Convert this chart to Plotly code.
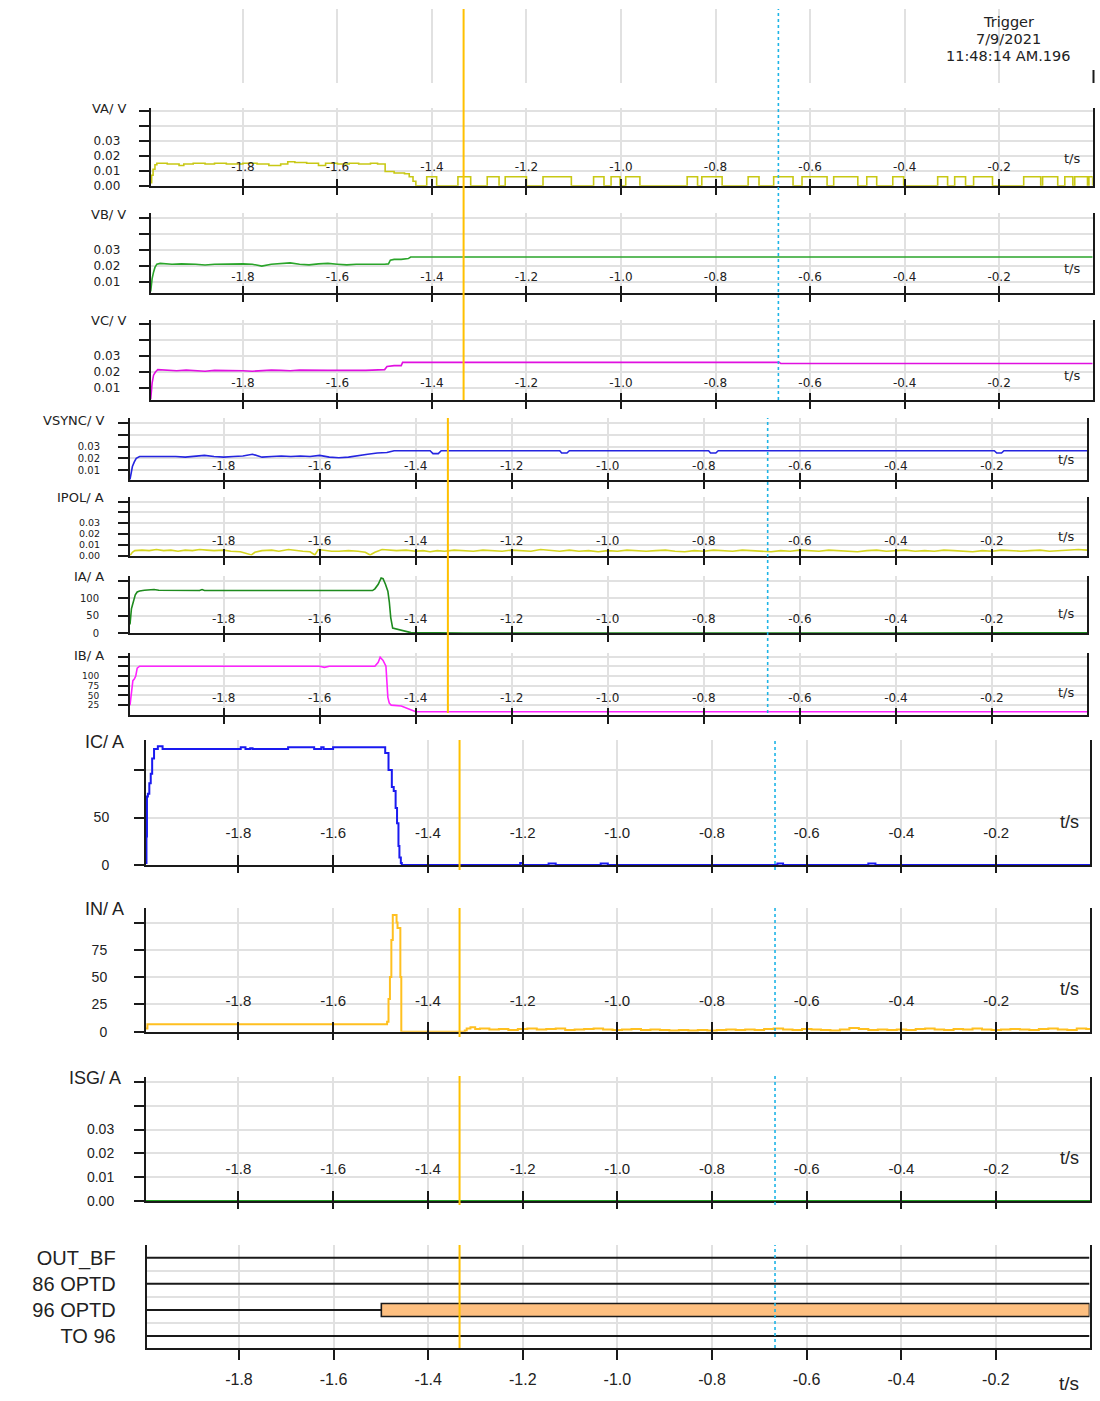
import plotly.graph_objects as go

W, H = 1100, 1394   # figure size (the page adds a few px below the figure)

# ---------------- data ----------------
t_start, t_end = -1.995, -0.002
cursor_t1 = -1.333   # orange cursor
cursor_t2 = -0.667   # cyan cursor
x_tickvals = [-1.8, -1.6, -1.4, -1.2, -1.0, -0.8, -0.6, -0.4, -0.2]
x_ticktext = ["-1.8", "-1.6", "-1.4", "-1.2", "-1.0", "-0.8", "-0.6", "-0.4", "-0.2"]
trigger_lines = ["Trigger", "7/9/2021", "11:48:14 AM.196"]

va_t = [-1.995, -1.993, -1.990, -1.986, -1.982, -1.960, -1.935, -1.925, -1.905, -1.880, -1.860, -1.835,
        -1.800, -1.770, -1.745, -1.720, -1.705, -1.690, -1.665, -1.640, -1.625, -1.600, -1.575, -1.555,
        -1.530, -1.515, -1.499, -1.480, -1.458, -1.448, -1.440, -1.434,
        -1.411, -1.390, -1.345, -1.318, -1.283, -1.258, -1.245, -1.200, -1.165, -1.105, -1.058, -1.036,
        -1.021, -1.002, -0.990, -0.960, -0.860, -0.838, -0.829, -0.786, -0.731, -0.708, -0.677, -0.636,
        -0.617, -0.564, -0.550, -0.499, -0.480, -0.459, -0.425, -0.402, -0.330, -0.309, -0.294, -0.271,
        -0.254, -0.214, -0.148, -0.112, -0.108, -0.076, -0.061, -0.044, -0.040, -0.013, -0.010, -0.002]
va_v = [0.002, 0.007, 0.011, 0.014, 0.015, 0.0145, 0.0135, 0.0145, 0.015, 0.0145, 0.015, 0.0145,
        0.015, 0.0145, 0.0135, 0.0145, 0.016, 0.0155, 0.015, 0.0135, 0.015, 0.0145, 0.015, 0.0145,
        0.015, 0.0145, 0.0095, 0.0085, 0.008, 0.006, 0.003, 0.0,
        0.006, 0.0, 0.006, 0.0, 0.006, 0.0, 0.006, 0.0, 0.006, 0.0, 0.006, 0.0,
        0.006, 0.0, 0.006, 0.0, 0.006, 0.0, 0.006, 0.0, 0.006, 0.0, 0.006, 0.0,
        0.006, 0.0, 0.006, 0.0, 0.006, 0.0, 0.006, 0.0, 0.006, 0.0, 0.006, 0.0,
        0.006, 0.0, 0.006, 0.0, 0.006, 0.0, 0.006, 0.0, 0.006, 0.0, 0.006, 0.0]

vb_t = [-1.995, -1.994, -1.992, -1.989, -1.986, -1.982, -1.975, -1.95, -1.93, -1.90, -1.88, -1.86,
        -1.84, -1.82, -1.80, -1.78, -1.76, -1.74, -1.72, -1.70, -1.68, -1.66, -1.64, -1.62, -1.60,
        -1.58, -1.56, -1.54, -1.52, -1.50, -1.492, -1.488, -1.480, -1.465, -1.450, -1.445, -0.002]
vb_v = [0.004, 0.007, 0.012, 0.016, 0.019, 0.021, 0.0215, 0.021, 0.0212, 0.021, 0.0205, 0.021,
        0.0212, 0.021, 0.0212, 0.021, 0.0198, 0.021, 0.0213, 0.0218, 0.021, 0.0206, 0.0212, 0.0215, 0.021,
        0.0206, 0.021, 0.0208, 0.021, 0.021, 0.0212, 0.0235, 0.024, 0.024, 0.0245, 0.0255, 0.0255]

vc_t = [-1.995, -1.994, -1.992, -1.989, -1.985, -1.980, -1.96, -1.94, -1.92, -1.90, -1.88, -1.86,
        -1.84, -1.82, -1.80, -1.78, -1.76, -1.74, -1.72, -1.70, -1.68, -1.66, -1.64, -1.62, -1.60,
        -1.58, -1.56, -1.54, -1.52, -1.50, -1.495, -1.48, -1.465, -1.462, -0.665, -0.662, -0.002]
vc_v = [0.003, 0.008, 0.013, 0.018, 0.020, 0.0215, 0.021, 0.0208, 0.0212, 0.021, 0.0205, 0.021,
        0.021, 0.0212, 0.0208, 0.0205, 0.021, 0.0212, 0.021, 0.0208, 0.0212, 0.021, 0.0212, 0.021, 0.021,
        0.0208, 0.021, 0.021, 0.0212, 0.0215, 0.0235, 0.024, 0.024, 0.026, 0.026, 0.0253, 0.0253]

vsync_t = [-1.995, -1.993, -1.990, -1.986, -1.982, -1.975, -1.95, -1.92, -1.90, -1.88, -1.86, -1.84,
           -1.82, -1.80, -1.78, -1.76, -1.74, -1.72, -1.70, -1.68, -1.66, -1.64, -1.62, -1.60, -1.58,
           -1.56, -1.54, -1.52, -1.50, -1.48, -1.46, -1.445, -1.40, -1.37, -1.364, -1.353, -1.347,
           -1.10, -1.096, -1.085, -1.08, -0.79, -0.786, -0.775, -0.77, -0.195, -0.19, -0.18, -0.175, -0.002]
vsync_v = [0.002, 0.008, 0.013, 0.017, 0.020, 0.0215, 0.0215, 0.022, 0.0215, 0.021, 0.0215, 0.0225,
           0.0215, 0.021, 0.0215, 0.022, 0.0235, 0.021, 0.0215, 0.022, 0.0215, 0.022, 0.0215, 0.0225, 0.021,
           0.0205, 0.021, 0.0225, 0.0235, 0.0245, 0.025, 0.0265, 0.0265, 0.0265, 0.024, 0.024, 0.0265,
           0.0265, 0.0245, 0.0245, 0.0265, 0.0265, 0.0245, 0.0245, 0.0265, 0.0265, 0.0245, 0.0245, 0.0265, 0.0265]

ipol_t = [-1.995, -1.99, -1.985, -1.97, -1.955, -1.94, -1.925, -1.91, -1.895, -1.88, -1.865, -1.85,
          -1.835, -1.82, -1.80, -1.785, -1.765, -1.75, -1.742, -1.735, -1.72, -1.70, -1.685, -1.665,
          -1.65, -1.635, -1.62, -1.61, -1.603, -1.59, -1.575, -1.56, -1.54, -1.52, -1.505, -1.495,
          -1.485, -1.47, -1.455, -1.44, -1.42, -1.40, -1.385, -1.37, -1.355, -1.34, -1.32, -1.30,
          -1.28, -1.26, -1.24, -1.22, -1.20, -1.18, -1.16, -1.14, -1.12, -1.10, -1.08, -1.06, -1.04,
          -1.02, -1.00, -0.98, -0.96, -0.94, -0.92, -0.90, -0.88, -0.86, -0.84, -0.82, -0.80, -0.78,
          -0.76, -0.74, -0.72, -0.70, -0.68, -0.66, -0.64, -0.62, -0.60, -0.58, -0.56, -0.54, -0.52,
          -0.50, -0.48, -0.46, -0.44, -0.42, -0.40, -0.38, -0.36, -0.34, -0.32, -0.30, -0.28, -0.26,
          -0.24, -0.22, -0.20, -0.18, -0.16, -0.14, -0.12, -0.10, -0.08, -0.06, -0.04, -0.02, -0.002]
ipol_v = [0.0, 0.003, 0.0045, 0.005, 0.0045, 0.0055, 0.0045, 0.005, 0.004, 0.005, 0.0045, 0.0055,
          0.005, 0.0045, 0.005, 0.004, 0.0035, 0.002, 0.0005, 0.003, 0.0045, 0.005, 0.004, 0.0055,
          0.0045, 0.004, 0.0035, 0.0005, 0.0055, 0.0045, 0.004, 0.004, 0.0045, 0.004, 0.003, 0.0005,
          0.003, 0.0055, 0.005, 0.0045, 0.005, 0.004, 0.0045, 0.0035, 0.0045, 0.004, 0.005, 0.0045,
          0.004, 0.005, 0.0045, 0.004, 0.005, 0.0045, 0.004, 0.0055, 0.0045, 0.004, 0.005, 0.004, 0.0045,
          0.0035, 0.0045, 0.004, 0.005, 0.0045, 0.004, 0.0045, 0.005, 0.004, 0.0035, 0.0045, 0.004, 0.005,
          0.0045, 0.004, 0.005, 0.0045, 0.004, 0.0035, 0.0045, 0.004, 0.005, 0.0045, 0.004, 0.005, 0.0045,
          0.004, 0.0035, 0.0045, 0.005, 0.004, 0.0045, 0.005, 0.004, 0.0045, 0.004, 0.005, 0.0045, 0.004,
          0.0035, 0.0045, 0.004, 0.005, 0.0045, 0.004, 0.0045, 0.005, 0.004, 0.0045, 0.005, 0.0055, 0.005]

ia_t = [-1.995, -1.994, -1.992, -1.990, -1.987, -1.984, -1.980, -1.975, -1.965, -1.955, -1.945, -1.935,
        -1.90, -1.85, -1.845, -1.840, -1.60, -1.55, -1.490, -1.485, -1.478, -1.472, -1.468, -1.463,
        -1.458, -1.455, -1.452, -1.448, -1.44, -1.43, -1.42, -1.41, -1.30, -1.20, -0.80, -0.40, -0.10,
        -0.05, -0.002]
ia_v = [25, 55, 70, 80, 95, 110, 118, 121, 123, 125, 125, 123,
        122, 122, 125, 122, 122, 122, 122, 127, 140, 158, 156, 140,
        120, 90, 45, 15, 12, 10, 6, 2, 1, 0.5, 0.5, 0.5, 1,
        1.5, 1.5]

ib_t = [-1.995, -1.993, -1.991, -1.989, -1.986, -1.983, -1.980, -1.975, -1.970, -1.80, -1.78, -1.60,
        -1.59, -1.58, -1.485, -1.478, -1.474, -1.468, -1.462, -1.460, -1.458, -1.455, -1.451, -1.43,
        -1.42, -1.40, -0.002]
ib_v = [25, 50, 80, 88, 92, 100, 120, 125, 125, 125, 124, 125,
        122, 125, 125, 135, 148, 140, 125, 90, 45, 30, 25, 23,
        18, 8, 8]

ic_t = [-1.995, -1.994, -1.993, -1.991, -1.988, -1.985, -1.982, -1.978, -1.970, -1.960, -1.95, -1.80,
        -1.795, -1.785, -1.78, -1.775, -1.77, -1.70, -1.695, -1.68, -1.65, -1.640, -1.625, -1.620,
        -1.60, -1.59, -1.52, -1.49, -1.483, -1.476, -1.472, -1.468, -1.465, -1.462, -1.460, -1.457,
        -1.455, -1.21, -1.205, -1.20, -1.15, -1.145, -1.13, -1.04, -1.035, -1.02, -0.665, -0.662,
        -0.65, -0.475, -0.47, -0.455, -0.002]
ic_v = [2, 30, 72, 75, 86, 96, 112, 122, 125, 122, 122, 122,
        124, 122, 122, 123, 122, 122, 124, 124, 124, 122, 124, 122,
        124, 124, 124, 118, 100, 82, 78, 60, 44, 20, 8, 2,
        0, 0, 2, 0, 0, 1.5, 0, 0, 1.5, 0, 0, 1.5,
        0, 0, 1.5, 0, 0]

in_t = [-1.995, -1.992, -1.490, -1.486, -1.483, -1.480, -1.477, -1.474, -1.468, -1.466, -1.464, -1.460,
        -1.458, -1.456, -1.333, -1.322, -1.318, -1.31, -1.30, -1.29, -1.27, -1.25, -1.23, -1.21, -1.19,
        -1.17, -1.15, -1.13, -1.11, -1.09, -1.07, -1.05, -1.03, -1.01, -0.99, -0.97, -0.95, -0.93, -0.91,
        -0.89, -0.87, -0.85, -0.83, -0.81, -0.79, -0.77, -0.75, -0.73, -0.71, -0.69, -0.67, -0.65, -0.63,
        -0.61, -0.59, -0.57, -0.55, -0.53, -0.51, -0.49, -0.47, -0.45, -0.43, -0.41, -0.39, -0.37, -0.35,
        -0.33, -0.31, -0.29, -0.27, -0.25, -0.23, -0.21, -0.19, -0.17, -0.15, -0.13, -0.11, -0.09, -0.07,
        -0.05, -0.03, -0.01, -0.002]
in_v = [3, 6.8, 6.8, 9, 30, 50, 84, 107, 107, 100, 95, 95,
        50, 0, 0, 1, 3, 4, 2.5, 3, 2, 2.5, 1.5, 2.5, 3,
        2, 2.5, 3, 1.5, 2, 2.5, 3, 2, 1.5, 2, 2.5, 1.5, 2, 1.5,
        1, 1.5, 1, 1.5, 1, 1.5, 2, 1.5, 2, 1.5, 2.5, 3, 2, 1.5,
        2.5, 2, 1.5, 1, 2, 3.5, 2.5, 1.5, 2, 1.5, 2, 1.5, 2.5, 3,
        2, 1.5, 2.5, 2, 3, 2, 1.5, 2, 2.5, 2, 1.5, 2.5, 3, 2,
        1.5, 3, 2.5, 2]

isg_t = [-1.995, -0.002]
isg_v = [0.0, 0.0]

dig_rows = ["TO 96", "96 OPTD", "86 OPTD", "OUT_BF"]
dig_levels = [0, 1, 2, 3]
optd96_on_t = -1.499     # start of active state of 96 OPTD

# ---------------- styling ----------------
GRID = "#e1e1e1"
AX = "#1a1a1a"
TXT = "#222222"
SMALL_FONT = "DejaVu Sans"
BIG_FONT = "Liberation Sans"

small_y = ["0.00", "0.01", "0.02", "0.03", "", ""]
small_yv = [0.0, 0.01, 0.02, 0.03, 0.04, 0.05]

# xs: standoff of the x tick labels (negative = drawn up inside the plot); yf: y tick font size;
# ys: standoff of the y tick labels
panels = [
    dict(title="VA/ V", t=va_t, v=va_v, color="#c8c814", shape="hv", l=150.7, r=1092.7, top=108, bot=185.7,
         yr=[0, 0.0518], yv=small_yv, yt=small_y, big=False, xs=-38, yf=12, ys=16,
         ttl=(128, 108), ts=(1072, 159)),
    dict(title="VB/ V", t=vb_t, v=vb_v, color="#2ba52b", shape="linear", l=150.7, r=1092.7, top=213, bot=293,
         yr=[0.003, 0.053], yv=[0.01, 0.02, 0.03, 0.04, 0.05], yt=["0.01", "0.02", "0.03", "", ""], big=False,
         xs=-35, yf=12, ys=16, ttl=(128, 214), ts=(1072, 268)),
    dict(title="VC/ V", t=vc_t, v=vc_v, color="#e010e0", shape="linear", l=150.7, r=1092.7, top=320, bot=400,
         yr=[0.0025, 0.0525], yv=[0.01, 0.02, 0.03, 0.04, 0.05], yt=["0.01", "0.02", "0.03", "", ""], big=False,
         xs=-36, yf=12, ys=16, ttl=(128, 321), ts=(1072, 375)),
    dict(title="VSYNC/ V", t=vsync_t, v=vsync_v, color="#2525e0", shape="linear", l=130, r=1087, top=418, bot=480,
         yr=[0.0015, 0.0544], yv=[0.01, 0.02, 0.03, 0.04, 0.05], yt=["0.01", "0.02", "0.03", "", ""], big=False,
         xs=-33, yf=10, ys=16, ttl=(106, 420), ts=(1066, 460)),
    dict(title="IPOL/ A", t=ipol_t, v=ipol_v, color="#d4d420", shape="linear", l=130, r=1087, top=497, bot=555.5,
         yr=[0, 0.0542], yv=small_yv, yt=small_y, big=False, xs=-34, yf=9.5, ys=16,
         ttl=(106, 498), ts=(1066, 536)),
    dict(title="IA/ A", t=ia_t, v=ia_v, color="#1e8b1e", shape="linear", l=130, r=1087, top=575.5, bot=633.3,
         yr=[0, 165], yv=[0, 50, 100, 150], yt=["0", "50", "100", ""], big=False, xs=-34, yf=10, ys=17,
         ttl=(106, 576), ts=(1066, 613)),
    dict(title="IB/ A", t=ib_t, v=ib_v, color="#ff22ff", shape="linear", l=130, r=1087, top=653, bot=714.5,
         yr=[1, 159], yv=[25, 50, 75, 100, 125, 150], yt=["25", "50", "75", "100", "", ""], big=False, xs=-36,
         yf=9, ys=17, ttl=(106, 655), ts=(1066, 693)),
    dict(title="IC/ A", t=ic_t, v=ic_v, color="#1a1af0", shape="hv", l=146, r=1090, top=740, bot=865,
         yr=[0, 131.6], yv=[0, 50, 100], yt=["0", "50", ""], big=True, xs=-53, yf=14, ys=22,
         ttl=(126, 742), ts=(1069, 822)),
    dict(title="IN/ A", t=in_t, v=in_v, color="#ffc020", shape="hv", l=146, r=1090, top=908, bot=1031.7,
         yr=[0, 113.3], yv=[0, 25, 50, 75, 100], yt=["0", "25", "50", "75", ""], big=True, xs=-52, yf=14, ys=24,
         ttl=(126, 909), ts=(1069, 989)),
    dict(title="ISG/ A", t=isg_t, v=isg_v, color="#22a022", shape="linear", l=146, r=1090, top=1076.5, bot=1201,
         yr=[0, 0.0523], yv=small_yv, yt=small_y, big=True, xs=-53, yf=14, ys=17,
         ttl=(123, 1078), ts=(1069, 1158)),
]

DIG = dict(l=146.7, r=1089.5, top=1245, bot=1348.3, yr=[-0.47, 3.49])
HEAD = dict(l=150.7, r=1092.7, top=9, bot=83)


def px(x):
    return x / W


def py(y):
    return 1 - y / H


fig = go.Figure()
layout = dict(width=W, height=H, margin=dict(l=0, r=0, t=0, b=0, pad=0), paper_bgcolor="white",
              plot_bgcolor="white", showlegend=False)
annotations = []
shapes = []

n = len(panels)
for i, p in enumerate(panels, start=1):
    big = p["big"]
    fam = BIG_FONT if big else SMALL_FONT
    lw = 2 if big else 1.6
    fig.add_trace(go.Scatter(x=p["t"], y=p["v"], mode="lines", line=dict(color=p["color"], width=lw,
                                                                      shape=p["shape"]),
                             xaxis=f"x{i}", yaxis=f"y{i}", hoverinfo="skip"))
    xdom = [px(p["l"]), px(p["r"])]
    layout[f"xaxis{i}"] = dict(domain=xdom, range=[t_start, t_end], anchor=f"y{i}",
                               tickmode="array", tickvals=x_tickvals, ticktext=x_ticktext,
                               ticks="outside", ticklen=6 if big else 7, tickwidth=2, tickcolor=AX,
                               showline=True, linecolor=AX, linewidth=2, showgrid=True, gridcolor=GRID,
                               gridwidth=2, zeroline=False, ticklabelposition="outside",
                               ticklabelstandoff=p["xs"], automargin=False,
                               tickfont=dict(family=fam, size=15 if big else 12, color=TXT))
    # overlay axis to give the ticks their part inside the plot
    j = i + 20
    layout[f"xaxis{j}"] = dict(domain=xdom, range=[t_start, t_end], anchor=f"y{i}", overlaying=f"x{i}",
                               side="bottom", tickmode="array", tickvals=x_tickvals, ticks="inside",
                               ticklen=10 if big else 7, tickwidth=2, tickcolor=AX, showticklabels=False,
                               showgrid=False, showline=False, zeroline=False)
    fig.add_trace(go.Scatter(x=[], y=[], xaxis=f"x{j}", yaxis=f"y{i}", hoverinfo="skip"))
    layout[f"yaxis{i}"] = dict(domain=[py(p["bot"]), py(p["top"])], range=p["yr"], anchor=f"x{i}",
                               tickmode="array", tickvals=p["yv"], ticktext=p["yt"], ticks="outside",
                               ticklen=10, tickwidth=2, tickcolor=AX, showline=True, mirror=True,
                               linecolor=AX, linewidth=2, showgrid=True, gridcolor=GRID, gridwidth=1.5,
                               zeroline=False, ticklabelstandoff=p["ys"], automargin=False,
                               tickfont=dict(family=fam, size=p["yf"], color=TXT))
    annotations.append(dict(text=p["title"], x=px(p["ttl"][0]), y=py(p["ttl"][1]), xref="paper",
                            yref="paper", xanchor="right", yanchor="middle", showarrow=False,
                            font=dict(family=fam, size=18 if big else 13, color=TXT)))
    annotations.append(dict(text="t/s", x=px(p["ts"][0]), y=py(p["ts"][1]), xref="paper", yref="paper",
                            xanchor="center", yanchor="middle", showarrow=False,
                            font=dict(family=fam, size=18 if big else 13, color=TXT)))

# ---- digital panel ----
d = n + 1
for lvl, name in zip(dig_levels, dig_rows):
    x_end = optd96_on_t if name == "96 OPTD" else t_end
    fig.add_trace(go.Scatter(x=[t_start, x_end], y=[lvl, lvl], mode="lines",
                             line=dict(color=AX, width=2), xaxis=f"x{d}", yaxis=f"y{d}", hoverinfo="skip"))
fig.add_trace(go.Bar(y=[dig_levels[dig_rows.index("96 OPTD")]], x=[t_end - optd96_on_t], base=[optd96_on_t],
                     orientation="h", width=0.5, marker=dict(color="#fdbf80", line=dict(color=AX, width=1.6)),
                     xaxis=f"x{d}", yaxis=f"y{d}", hoverinfo="skip"))
layout[f"xaxis{d}"] = dict(domain=[px(DIG["l"]), px(DIG["r"])], range=[t_start, t_end], anchor=f"y{d}",
                           tickmode="array", tickvals=x_tickvals, ticktext=x_ticktext, ticks="outside",
                           ticklen=10, tickwidth=2, tickcolor=AX, showline=True, linecolor=AX, linewidth=2,
                           showgrid=True, gridcolor=GRID, gridwidth=2, zeroline=False, ticklabelstandoff=5,
                           automargin=False, tickfont=dict(family=BIG_FONT, size=16, color=TXT))
layout[f"yaxis{d}"] = dict(domain=[py(DIG["bot"]), py(DIG["top"])], range=DIG["yr"], anchor=f"x{d}",
                           tickmode="array", tickvals=dig_levels, ticktext=dig_rows, ticks="",
                           showline=True, mirror=True, linecolor=AX, linewidth=2, showgrid=False,
                           zeroline=False, ticklabelstandoff=25, automargin=False,
                           minor=dict(tickvals=[0.5, 1.5, 2.5], showgrid=True, gridcolor=GRID, gridwidth=2,
                                      ticks=""),
                           tickfont=dict(family=BIG_FONT, size=20, color=TXT))
annotations.append(dict(text="t/s", x=px(1069), y=py(1383), xref="paper", yref="paper", xanchor="center",
                        yanchor="middle", showarrow=False, font=dict(family=BIG_FONT, size=19, color=TXT)))

# ---- header strip ----
h = n + 2
fig.add_trace(go.Scatter(x=[], y=[], xaxis=f"x{h}", yaxis=f"y{h}", hoverinfo="skip"))
layout[f"xaxis{h}"] = dict(domain=[px(HEAD["l"]), px(HEAD["r"])], range=[t_start, t_end], anchor=f"y{h}",
                           tickmode="array", tickvals=x_tickvals, showticklabels=False, ticks="",
                           showline=False, showgrid=True, gridcolor=GRID, gridwidth=2, zeroline=False)
layout[f"yaxis{h}"] = dict(domain=[py(HEAD["bot"]), py(HEAD["top"])], range=[0, 1], anchor=f"x{h}",
                           visible=False)
for k, line in enumerate(trigger_lines):
    annotations.append(dict(text=line, x=px(1008), y=py(22.5 + 17 * k), xref="paper", yref="paper",
                            xanchor="center", yanchor="middle", showarrow=False,
                            font=dict(family=SMALL_FONT, size=14.5, color=TXT)))
shapes.append(dict(type="line", xref="paper", yref="paper", x0=px(1093.5), x1=px(1093.5), y0=py(70),
                   y1=py(83), line=dict(color=AX, width=2)))

# ---- cursors ----
cursor_groups = [
    ("x1", [(9, 400)]),
    ("x4", [(418, 713)]),
    ("x8", [(740, 870), (908, 1037), (1076, 1205), (1245, 1348)]),
]
for xr, spans in cursor_groups:
    for (a, b) in spans:
        shapes.append(dict(type="line", xref=xr, yref="paper", x0=cursor_t1, x1=cursor_t1, y0=py(b), y1=py(a),
                           line=dict(color="#ffc000", width=2), layer="above"))
        shapes.append(dict(type="line", xref=xr, yref="paper", x0=cursor_t2, x1=cursor_t2, y0=py(b), y1=py(a),
                           line=dict(color="#1eb4e6", width=1.6, dash="3px,3px"), layer="above"))

layout["annotations"] = annotations
layout["shapes"] = shapes
fig.update_layout(**layout)
fig.write_html("out.html")
